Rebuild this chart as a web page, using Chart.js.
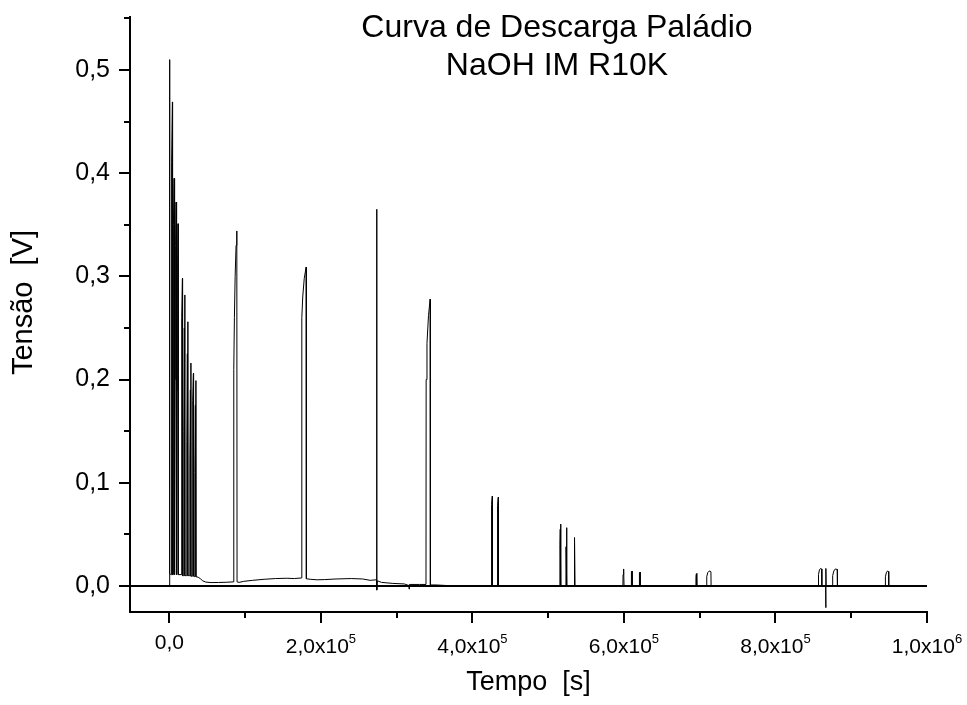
<!DOCTYPE html>
<html>
<head>
<meta charset="utf-8">
<script src="https://cdn.jsdelivr.net/npm/chart.js@4.4.1/dist/chart.umd.min.js"></script>
<style>
  html, body { margin: 0; padding: 0; background: #fff; }
  canvas { display: block; }
</style>
</head>
<body>
<canvas id="c" width="967" height="705"></canvas>
<script>
// ---------- data ----------
const timeSeconds = [
  0, 150, 250, 500, 650,
  2300, 2500, 3300, 4000, 4200,
  4800, 5000, 5600, 6200, 6400,
  7300, 7500, 8200, 8800, 9000,
  10000, 10200, 10900, 11500, 11700,
  15700, 15900, 16600, 17200, 17400,
  18800, 19000, 19700, 20300, 20500,
  22800, 23000, 23700, 24300, 24500,
  26800, 27000, 27700, 28300, 28500,
  30200, 30400, 31100, 31700, 31900,
  33400, 33600, 34300, 34900, 35100,
  38000, 41000, 44000, 48000, 55000, 65000, 75000, 84800,
  85000, 85800, 86800, 88000, 89000, 89300,
  92000, 98000, 110000, 125000, 140000, 155000, 165000, 174600,
  174800, 176000, 178000, 180500, 180800,
  186000, 195000, 205000, 220000, 240000, 255000, 265000, 273300,
  273600, 273900, 274500, 280000, 295000, 310000, 316000, 316400, 316800, 330000, 338700,
  338900, 340000, 342000, 344200, 344500,
  352000, 365000, 380000,
  424700, 424900, 425600, 426200, 426400,
  432600, 432800, 433500, 434100, 434300,
  515300, 515450, 515900, 516500, 516650,
  523400, 523550, 524000, 524600, 524750,
  534100, 534250, 534700, 535300, 535450,
  598600, 598800, 599300, 599900, 600100,
  609400, 609600, 610100, 610700, 610900,
  620000, 620200, 620700, 621300, 621500,
  694800, 695000, 695500, 696100, 696300,
  709000, 709300, 710500, 712000, 713500, 714800, 715000,
  856500, 856800, 858000, 859500, 861000, 861200,
  866200, 866400, 866600, 866900,
  875200, 875500, 877000, 879000, 881500, 881800,
  944800, 945100, 946300, 947800, 949300, 949500,
  960000
];
const voltageV = [
  0.000, 0.028, 0.300, 0.510, 0.012,
  0.011, 0.250, 0.410, 0.469, 0.011,
  0.011, 0.220, 0.350, 0.395, 0.011,
  0.011, 0.200, 0.330, 0.372, 0.011,
  0.011, 0.190, 0.310, 0.351, 0.011,
  0.011, 0.160, 0.260, 0.298, 0.010,
  0.010, 0.150, 0.250, 0.282, 0.010,
  0.010, 0.140, 0.225, 0.256, 0.010,
  0.010, 0.120, 0.190, 0.216, 0.0095,
  0.0095, 0.110, 0.180, 0.206, 0.0095,
  0.009, 0.110, 0.175, 0.199, 0.009,
  0.0085, 0.007, 0.005, 0.0038, 0.0033, 0.0034, 0.0036, 0.004,
  0.210, 0.260, 0.300, 0.330, 0.344, 0.004,
  0.0035, 0.0045, 0.0055, 0.0065, 0.0072, 0.0075, 0.0072, 0.0078,
  0.260, 0.280, 0.298, 0.309, 0.007,
  0.0065, 0.006, 0.0062, 0.0068, 0.0072, 0.0068, 0.0055, 0.006,
  0.365, -0.004, 0.005, 0.0035, 0.0025, 0.002, 0.0005, -0.003, 0.0015, 0.0015, 0.0015,
  0.200, 0.235, 0.262, 0.278, 0.001,
  0.001, 0.0005, 0.000,
  0.000, 0.055, 0.079, 0.087, 0.000,
  0.000, 0.055, 0.078, 0.086, 0.000,
  0.000, 0.040, 0.055, 0.060, 0.000,
  0.000, 0.038, 0.052, 0.0565, 0.000,
  0.000, 0.032, 0.043, 0.047, 0.000,
  0.000, 0.011, 0.0155, 0.0165, 0.000,
  0.000, 0.010, 0.0138, 0.0145, 0.000,
  0.000, 0.009, 0.0128, 0.0135, 0.000,
  0.000, 0.008, 0.0115, 0.0123, 0.000,
  0.000, 0.009, 0.0128, 0.0142, 0.0145, 0.0138, 0.000,
  0.000, 0.011, 0.0155, 0.017, 0.0165, 0.000,
  0.000, -0.021, 0.017, 0.000,
  0.000, 0.010, 0.0145, 0.0165, 0.016, 0.000,
  0.000, 0.009, 0.0128, 0.0145, 0.014, 0.000,
  0.000
];

// ---------- tick values and labels ----------
const yMajorTicks = [0, 0.1, 0.2, 0.3, 0.4, 0.5];
const yMinorTicks = [0.05, 0.15, 0.25, 0.35, 0.45, 0.55];
const xMajorTicks = [0, 200000, 400000, 600000, 800000, 1000000];
const xMinorTicks = [100000, 300000, 500000, 700000, 900000];
const xTickMantissa = ['0,0', '2,0x10', '4,0x10', '6,0x10', '8,0x10', '1,0x10'];
const xTickExponent = ['', '5', '5', '5', '5', '6'];
const titleLines = ['Curva de Descarga Paládio', 'NaOH IM R10K'];
const xAxisTitle = 'Tempo  [s]';
const yAxisTitle = 'Tensão  [V]';

const FONT = "'Liberation Sans', Arial, Helvetica, sans-serif";

const points = timeSeconds.map((t, i) => ({ x: t, y: voltageV[i] }));

const decorPlugin = {
  id: 'decor',
  afterDraw(chart) {
    const ctx = chart.ctx;
    const xs = chart.scales.x, ys = chart.scales.y;
    const area = chart.chartArea;
    ctx.save();
    ctx.strokeStyle = '#000';
    ctx.lineWidth = 2;
    // minor ticks
    yMinorTicks.forEach(v => {
      const py = Math.round(ys.getPixelForValue(v));
      ctx.beginPath();
      ctx.moveTo(area.left - 6, py);
      ctx.lineTo(area.left, py);
      ctx.stroke();
    });
    xMinorTicks.forEach(v => {
      const px = Math.round(xs.getPixelForValue(v));
      ctx.beginPath();
      ctx.moveTo(px, area.bottom);
      ctx.lineTo(px, area.bottom + 6);
      ctx.stroke();
    });
    // x tick labels with superscript exponent
    ctx.fillStyle = '#000';
    ctx.textBaseline = 'alphabetic';
    ctx.textAlign = 'left';
    xMajorTicks.forEach((v, i) => {
      const px = xs.getPixelForValue(v);
      const mainFont = '21px ' + FONT;
      const supFont = '13px ' + FONT;
      ctx.font = mainFont;
      const w1 = ctx.measureText(xTickMantissa[i]).width;
      ctx.font = supFont;
      const w2 = xTickExponent[i] ? ctx.measureText(xTickExponent[i]).width : 0;
      const x0 = px - (w1 + w2) / 2;
      const base = xTickExponent[i] ? 653 : 649;
      ctx.font = mainFont;
      ctx.fillText(xTickMantissa[i], x0, base);
      if (xTickExponent[i]) {
        ctx.font = supFont;
        ctx.fillText(xTickExponent[i], x0 + w1, 643);
      }
    });
    // chart title
    ctx.textAlign = 'center';
    ctx.font = '32px ' + FONT;
    ctx.fillText(titleLines[0], 557, 37);
    ctx.fillText(titleLines[1], 557, 75);
    // axis titles
    ctx.font = '27px ' + FONT;
    ctx.fillText(xAxisTitle, (area.left + area.right) / 2, 690);
    ctx.save();
    ctx.translate(31.5, 302.5);
    ctx.rotate(-Math.PI / 2);
    ctx.font = '29px ' + FONT;
    ctx.fillText(yAxisTitle, 0, 0);
    ctx.restore();
    ctx.restore();
  }
};

new Chart(document.getElementById('c'), {
  type: 'line',
  data: {
    datasets: [{
      data: points,
      borderColor: '#000',
      borderWidth: 1,
      pointRadius: 0,
      tension: 0,
      fill: false
    }]
  },
  options: {
    responsive: false,
    animation: false,
    parsing: true,
    layout: { padding: { left: 0, right: 40, top: 17, bottom: 0 } },
    plugins: { legend: { display: false }, tooltip: { enabled: false }, title: { display: false } },
    scales: {
      x: {
        type: 'linear',
        min: -52000,
        max: 1000000,
        afterBuildTicks: s => { s.ticks = xMajorTicks.map(v => ({ value: v })); },
        afterFit: s => { s.height = 93; s.paddingLeft = 0; s.paddingRight = 0; },
        ticks: { display: false },
        grid: { drawOnChartArea: false, drawTicks: true, tickLength: 11, tickColor: '#000', lineWidth: 2, color: '#000' },
        border: { display: true, color: '#000', width: 2 }
      },
      y: {
        type: 'linear',
        min: -0.0252,
        max: 0.5513,
        afterBuildTicks: s => { s.ticks = yMajorTicks.map(v => ({ value: v })); },
        afterFit: s => { s.width = 130; s.paddingTop = 0; s.paddingBottom = 0; },
        ticks: {
          color: '#000',
          padding: 9,
          font: { family: FONT, size: 25 },
          callback: v => v.toFixed(1).replace('.', ',')
        },
        grid: {
          drawOnChartArea: true,
          drawTicks: true,
          tickLength: 11,
          tickColor: '#000',
          lineWidth: 2,
          color: c => (c.tick && c.tick.value === 0) ? '#000' : 'rgba(0,0,0,0)'
        },
        border: { display: true, color: '#000', width: 2 }
      }
    }
  },
  plugins: [decorPlugin]
});
</script>
</body>
</html>
